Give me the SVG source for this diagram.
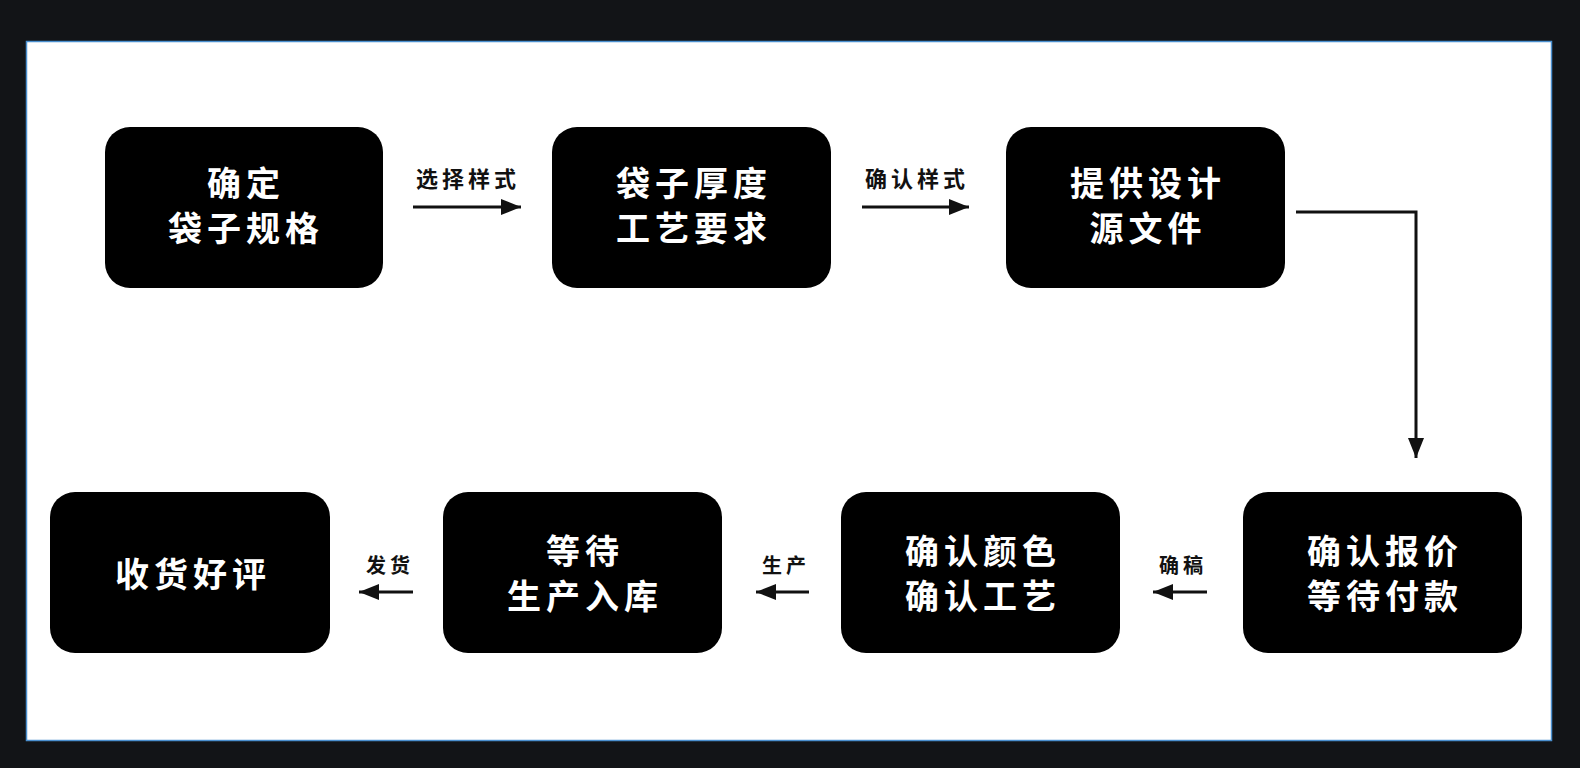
<svg xmlns="http://www.w3.org/2000/svg" width="1580" height="768" viewBox="0 0 1580 768">
<defs>
<style>
.node rect{fill:#000;}
.nt{fill:#fff;font-family:"Noto Sans CJK SC","Noto Sans",sans-serif;font-weight:700;font-size:34px;letter-spacing:5px;text-anchor:middle;dominant-baseline:central;}
.lb{fill:#111;font-family:"Noto Sans CJK SC","Noto Sans",sans-serif;font-weight:700;font-size:22px;letter-spacing:4px;text-anchor:middle;dominant-baseline:central;}
.lb2{font-size:20px;letter-spacing:4px;}
.edge{fill:none;stroke:#111;stroke-width:3;}
</style>
<marker id="ah" markerUnits="userSpaceOnUse" markerWidth="20" markerHeight="16" refX="20" refY="8" orient="auto">
<path d="M0,0 L20,8 L0,16 Z" fill="#111"/>
</marker>
</defs>
<rect x="0" y="0" width="1580" height="768" fill="#121417"/>
<rect x="26.5" y="41.5" width="1525" height="699" fill="#fff" stroke="#4a8fcf" stroke-width="1.5"/>

<g id="connectors">
<path class="edge" d="M413,207 H521" marker-end="url(#ah)"/>
<path class="edge" d="M862,207 H969" marker-end="url(#ah)"/>
<path class="edge" d="M1296,212 H1416 V458" marker-end="url(#ah)"/>
<path class="edge" d="M1207,592 H1153" marker-end="url(#ah)"/>
<path class="edge" d="M809,592 H756" marker-end="url(#ah)"/>
<path class="edge" d="M413,592 H359" marker-end="url(#ah)"/>
<text class="lb" x="468" y="177">选择样式</text>
<text class="lb" x="917" y="177">确认样式</text>
<text class="lb lb2" x="1183" y="564">确稿</text>
<text class="lb lb2" x="786" y="564">生产</text>
<text class="lb lb2" x="390" y="564">发货</text>
</g>

<g id="n1" class="node"><rect x="105" y="127" width="278" height="161" rx="25"/>
<text class="nt" x="246" y="181.5">确定</text><text class="nt" x="246" y="226.5">袋子规格</text></g>
<g id="n2" class="node"><rect x="552" y="127" width="279" height="161" rx="25"/>
<text class="nt" x="694" y="181.5">袋子厚度</text><text class="nt" x="694" y="226.5">工艺要求</text></g>
<g id="n3" class="node"><rect x="1006" y="127" width="279" height="161" rx="25"/>
<text class="nt" x="1148" y="181.5">提供设计</text><text class="nt" x="1148" y="226.5">源文件</text></g>
<g id="n4" class="node"><rect x="1243" y="492" width="279" height="161" rx="25"/>
<text class="nt" x="1385" y="549">确认报价</text><text class="nt" x="1385" y="594">等待付款</text></g>
<g id="n5" class="node"><rect x="841" y="492" width="279" height="161" rx="25"/>
<text class="nt" x="983" y="549">确认颜色</text><text class="nt" x="983" y="594">确认工艺</text></g>
<g id="n6" class="node"><rect x="443" y="492" width="279" height="161" rx="25"/>
<text class="nt" x="585" y="549">等待</text><text class="nt" x="585" y="594">生产入库</text></g>
<g id="n7" class="node"><rect x="50" y="492" width="280" height="161" rx="25"/>
<text class="nt" x="193" y="572">收货好评</text></g>
</svg>
